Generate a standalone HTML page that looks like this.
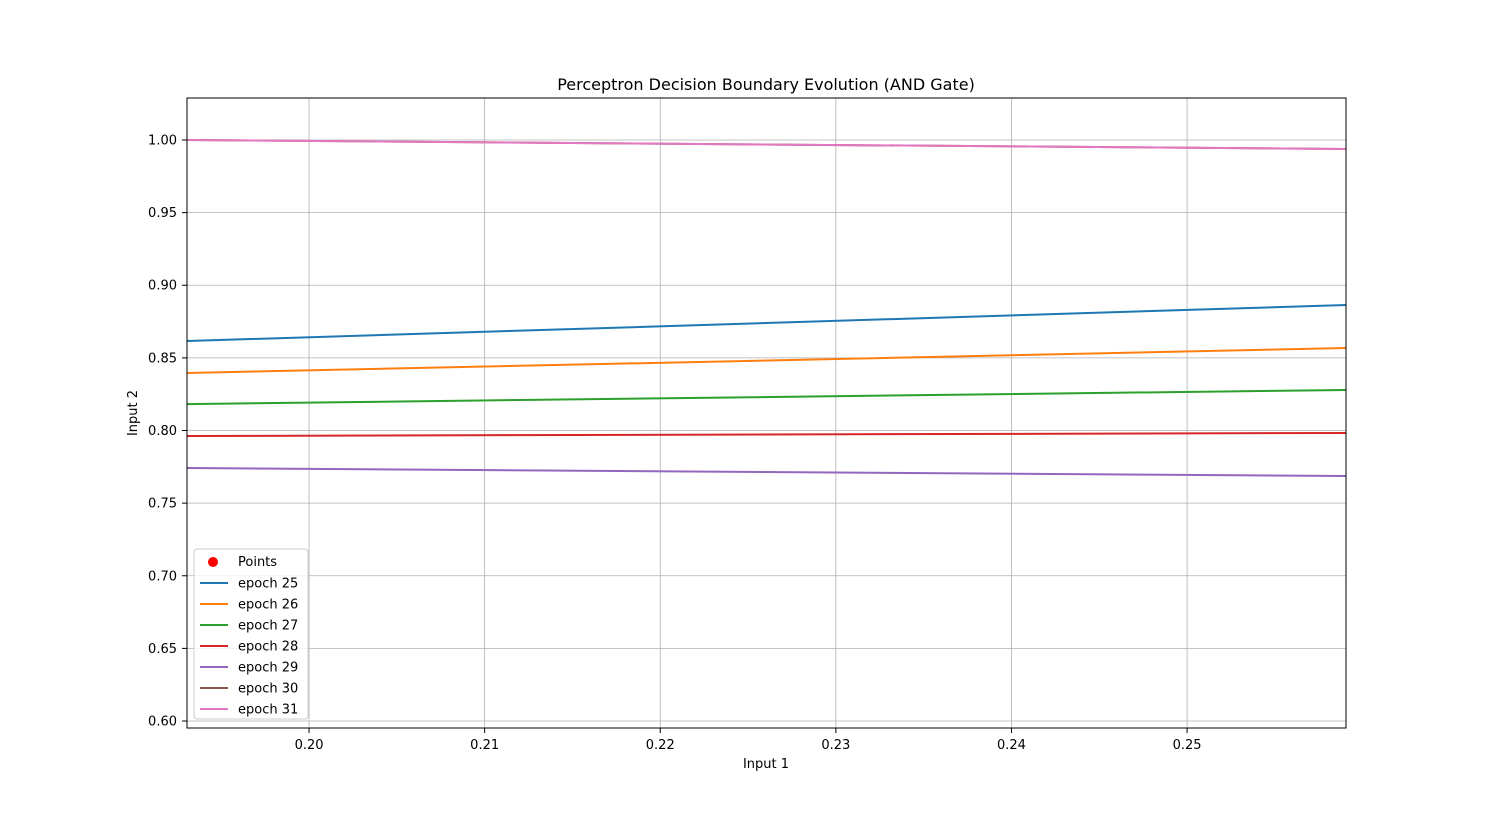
<!DOCTYPE html>
<html><head><meta charset="utf-8"><style>
html,body{margin:0;padding:0;width:1496px;height:818px;overflow:hidden;background:#fff;font-family:"Liberation Sans","DejaVu Sans",sans-serif;}
svg{display:block;overflow:hidden;}
svg text{font-family:"DejaVu Sans","Liberation Sans",sans-serif;}
</style></head><body>
<svg id="chart" width="1496" height="818" viewBox="0 0 1496 818" xmlns="http://www.w3.org/2000/svg">
<rect width="1496" height="818" fill="#fff"/>
<defs><clipPath id="clip"><rect x="187" y="98" width="1159" height="630"/></clipPath></defs>
<g id="grid"></g>
<g id="lines" clip-path="url(#clip)"></g>
<rect x="187" y="98" width="1159" height="630" fill="none" stroke="#000" stroke-width="1"/>
<g id="ticks"></g>
<text x="766" y="90" text-anchor="middle" font-size="16">Perceptron Decision Boundary Evolution (AND Gate)</text>
<text x="766" y="768" text-anchor="middle" font-size="13">Input 1</text>
<text x="137" y="413" text-anchor="middle" font-size="13" transform="rotate(-90 137 413)">Input 2</text>
<g id="legend"></g>
</svg>
<script>
const xTicks=[0.20,0.21,0.22,0.23,0.24,0.25];
const yTicks=[0.60,0.65,0.70,0.75,0.80,0.85,0.90,0.95,1.00];
const seriesNames=["epoch 25","epoch 26","epoch 27","epoch 28","epoch 29","epoch 30","epoch 31"];
const seriesColors=["#1f77b4","#ff7f0e","#2ca02c","#d62728","#9467bd","#8c564b","#e377c2"];
const xEnds=[0.19305,0.25905];
const leftVals=[0.8616,0.8396,0.8182,0.7962,0.7742,1.0000,1.0000];
const rightVals=[0.8864,0.8568,0.8279,0.7983,0.7687,0.9938,0.9938];
const pointsX=[0,0,1,1];
const pointsY=[0,1,0,1];
const X0=0.19305,X1=0.25905,Y0=0.5952,Y1=1.0289;
const sx=v=>187+(v-X0)/(X1-X0)*1159;
const sy=v=>728-(v-Y0)/(Y1-Y0)*630;
const NS="http://www.w3.org/2000/svg";
function mk(tag,attrs,parent){const e=document.createElementNS(NS,tag);for(const k in attrs)e.setAttribute(k,attrs[k]);parent.appendChild(e);return e;}
const grid=document.getElementById('grid'),ticks=document.getElementById('ticks'),lines=document.getElementById('lines'),legend=document.getElementById('legend');
xTicks.forEach(t=>{const x=sx(t);
 const g=mk('line',{x1:x,x2:x,y1:98,y2:728,stroke:'#b0b0b0','stroke-width':0.8},grid);
 
 
 mk('line',{x1:x,x2:x,y1:728,y2:733,stroke:'#000'},ticks);
 const tx=mk('text',{x:x,y:749,'text-anchor':'middle','font-size':13},ticks);tx.textContent=t.toFixed(2);
 
 });
yTicks.forEach(t=>{const y=sy(t);
 const g=mk('line',{x1:187,x2:1346,y1:y,y2:y,stroke:'#b0b0b0','stroke-width':0.8},grid);
 
 
 mk('line',{x1:182,x2:187,y1:y,y2:y,stroke:'#000'},ticks);
 const tx=mk('text',{x:177,y:y+4.5,'text-anchor':'end','font-size':13},ticks);tx.textContent=t.toFixed(2);
 
 });
pointsX.forEach((px,i)=>{const py=pointsY[i];
 if(px<X0||px>X1||py<Y0||py>Y1)return;
 const c=mk('circle',{cx:sx(px),cy:sy(py),r:5,fill:'red'},lines);
 
 });
seriesNames.forEach((n,i)=>{const l=mk('line',{x1:sx(xEnds[0]),y1:sy(leftVals[i]),x2:sx(xEnds[1]),y2:sy(rightVals[i]),stroke:seriesColors[i],'stroke-width':2},lines);
 
 });
const box=mk('rect',{x:194,y:549,width:114,height:170,rx:3,fill:'#fff','fill-opacity':0.8,stroke:'#ccc'},legend);


mk('circle',{cx:213,cy:562,r:5,fill:'red'},legend);
const pt=mk('text',{x:238,y:566,'font-size':13},legend);pt.textContent='Points';


seriesNames.forEach((n,i)=>{const y=583+i*21;
 mk('line',{x1:200,x2:228,y1:y,y2:y,stroke:seriesColors[i],'stroke-width':2},legend);
 const t=mk('text',{x:238,y:y+4.5,'font-size':13},legend);t.textContent=n;
 
 });
</script>
</body></html>
